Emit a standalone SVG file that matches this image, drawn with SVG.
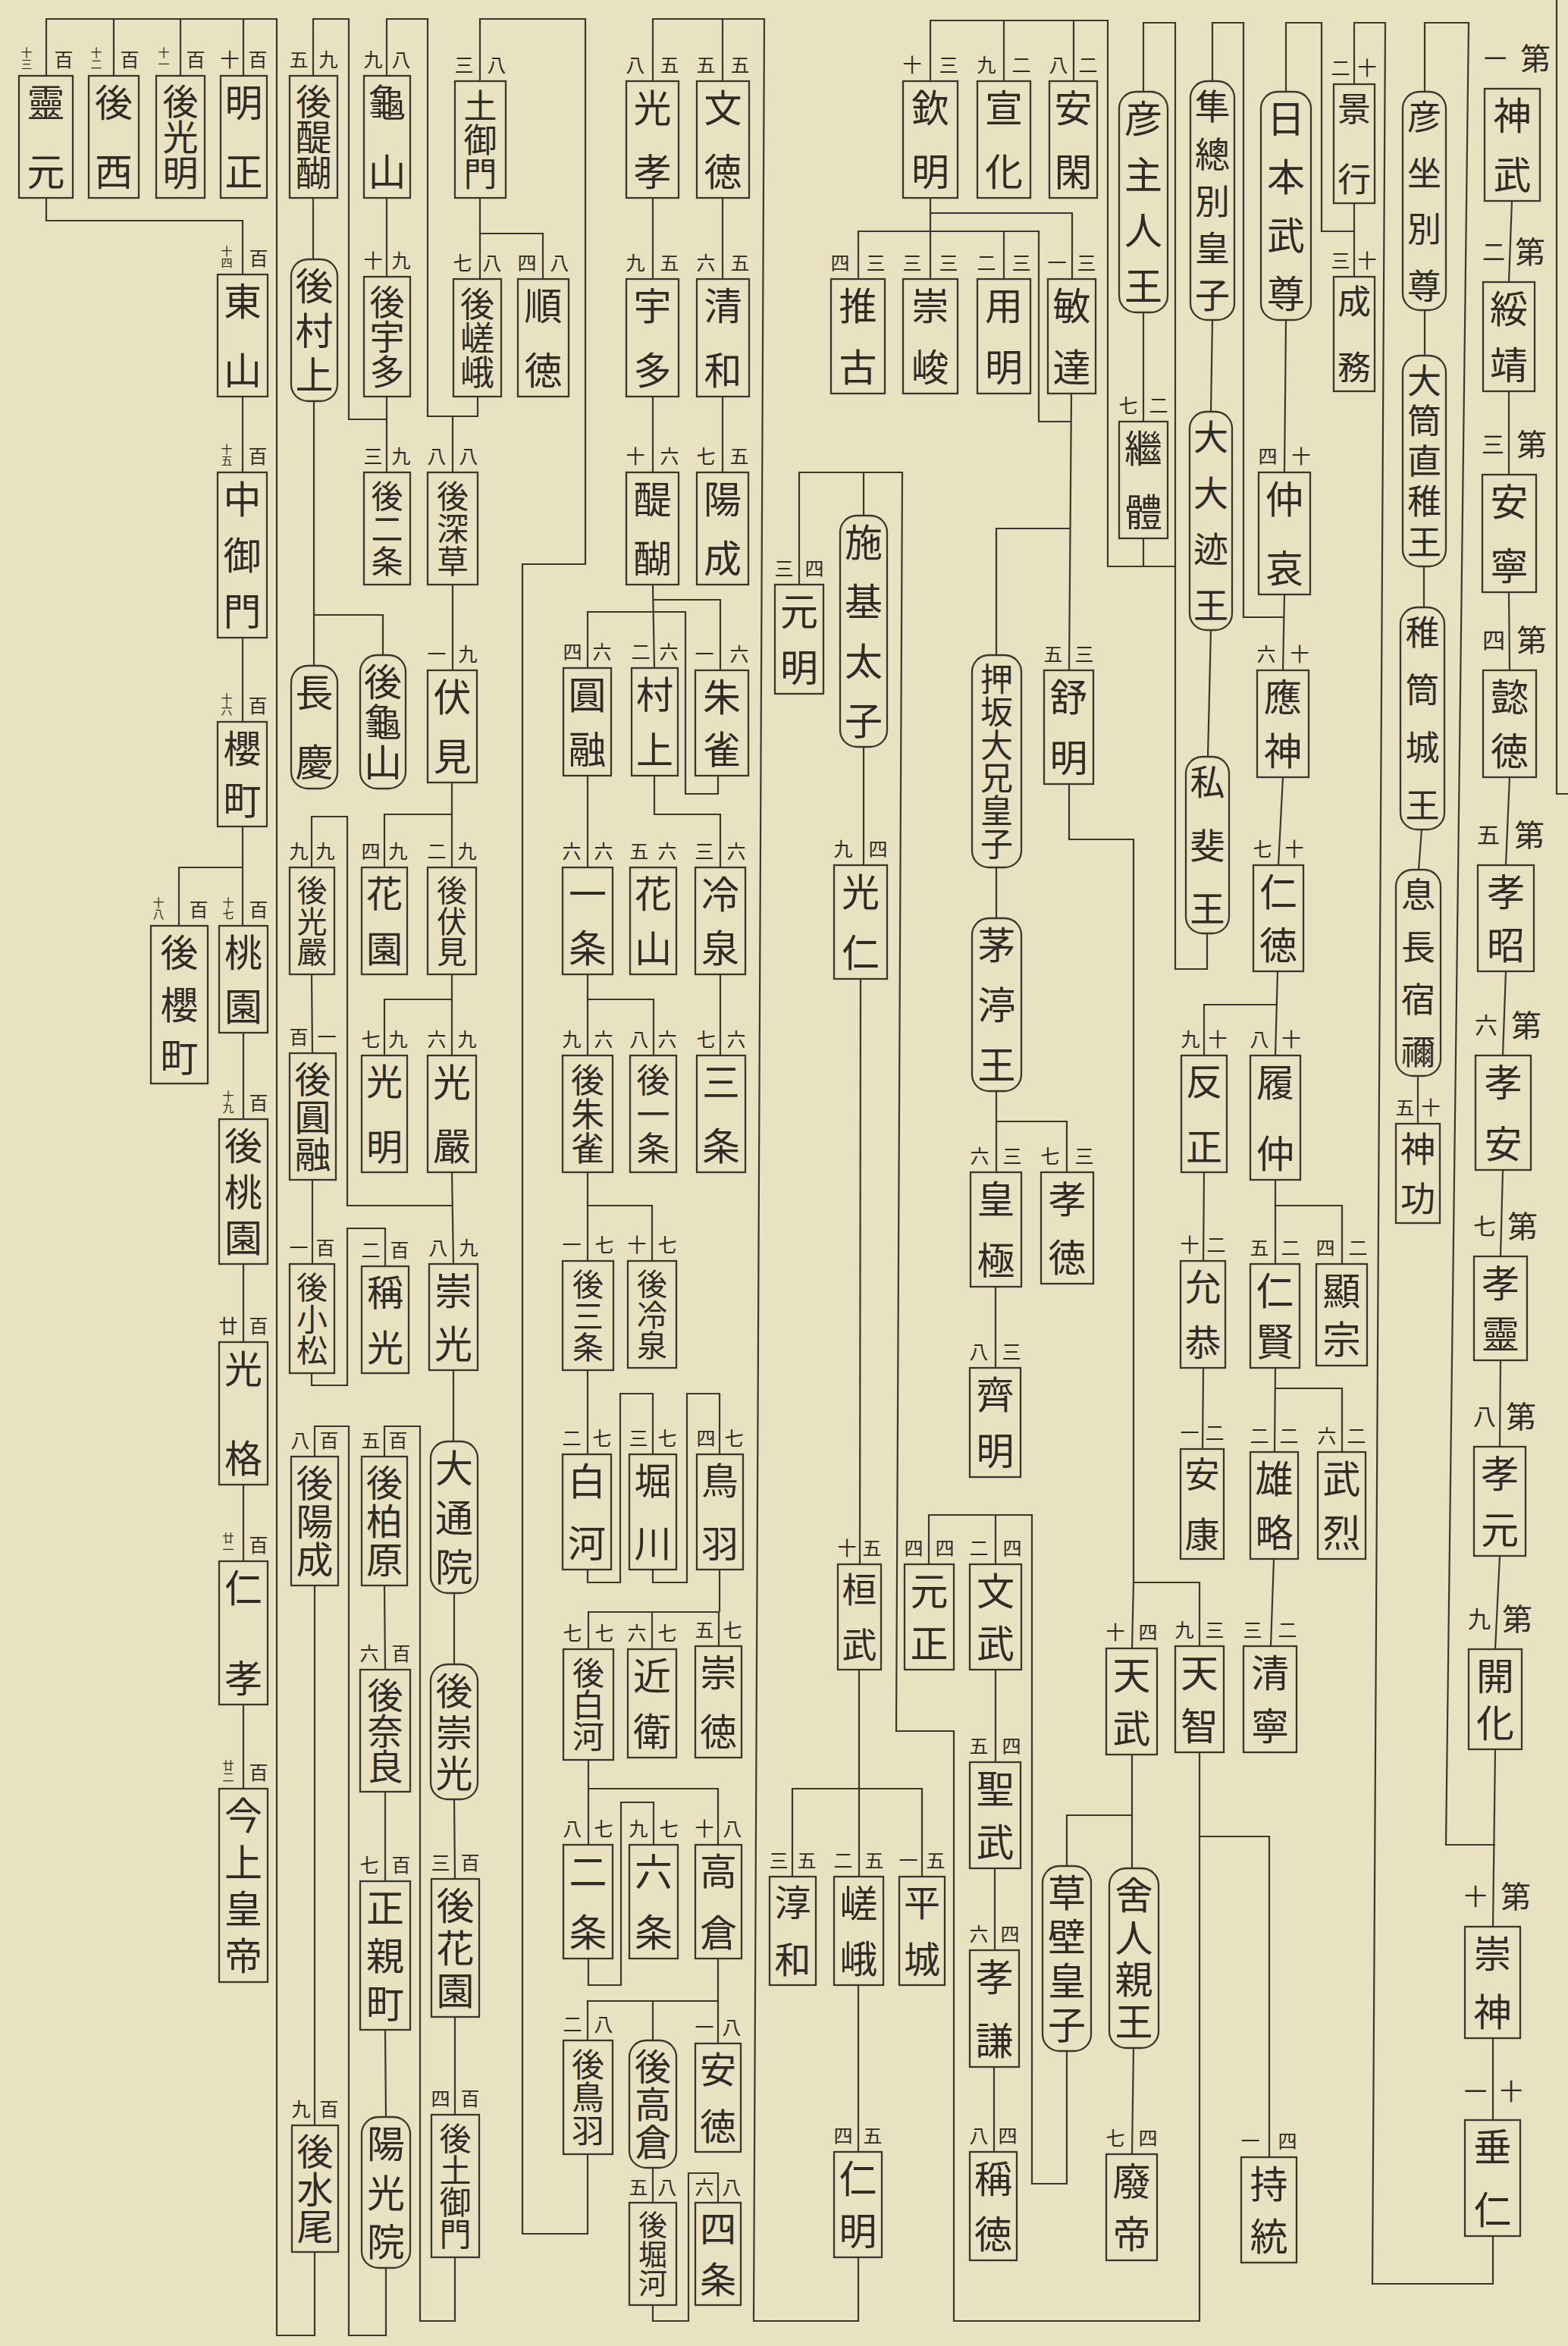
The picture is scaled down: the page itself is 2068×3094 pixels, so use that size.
<svg xmlns="http://www.w3.org/2000/svg" width="2068" height="3094" viewBox="0 0 2068 3094">
<style>
.bg{fill:#E8E2C0}
.b{fill:none;stroke:#3b3730;stroke-width:2.3}
.c path,.f{fill:none;stroke:#3b3730;stroke-width:2.2}
text{font-family:"Noto Sans CJK JP","Noto Sans CJK SC",sans-serif;fill:#2f2c27}
.t{font-size:50px;writing-mode:vertical-rl;text-anchor:middle}
.s{font-size:25px;text-anchor:middle;dominant-baseline:central}
.s2{font-size:15px;writing-mode:vertical-rl;text-anchor:middle}
.r{font-size:30px}
.d{font-size:40px}
</style>
<rect class="bg" x="0" y="0" width="2068" height="3094"/>
<path class="f" d="M2053,0 V1047 H2068"/>
<g id="connectors" class="c">
<path d="M1994,265 L1990,372"/><path d="M1990,516 L1990,626"/><path d="M1990,781 L1991,884"/><path d="M1991,1025 L1986,1141"/><path d="M1986,1281 L1982,1392"/><path d="M1982,1543 L1979,1657"/><path d="M1979,1794 L1978,1908"/><path d="M1978,2052 L1972,2175"/><path d="M1972,2307 L1969,2541"/><path d="M1969,2688 L1969,2796"/>
<path d="M1969,2949 V3012 H1810 L1827,30 H1786 V111"/>
<path d="M1786,268 V365"/>
<path d="M1786,305 H1743 V30 H1696 V121"/>
<path d="M1972,2433 H1907 L1937,30 H1879 V121"/>
<path d="M1879,409 V469"/><path d="M1878,747 V801"/><path d="M1875,1094 L1871,1147"/><path d="M1870,1419 V1482"/>
<path d="M1696,422 L1694,623"/><path d="M1694,784 L1692,884"/>
<path d="M1693,814 H1640 V30 H1599 V107"/>
<path d="M1599,422 L1597,543"/><path d="M1597,831 L1593,998"/>
<path d="M1592,1231 V1278 H1550 V30 H1508 V121"/>
<path d="M1508,412 V556"/>
<path d="M1508,710 V747 H1461 V27 H1227 V107"/>
<path d="M1461,747 H1550"/>
<path d="M1324,27 V107"/><path d="M1416,27 V107"/>
<path d="M1692,1025 L1686,1141"/><path d="M1685,1281 L1682,1392"/>
<path d="M1685,1325 H1588 V1392"/>
<path d="M1588,1546 L1587,1663"/><path d="M1587,1804 L1586,1911"/>
<path d="M1682,1556 V1667"/><path d="M1682,1590 H1770 V1667"/>
<path d="M1682,1804 L1681,1915"/><path d="M1682,1831 H1770 V1915"/>
<path d="M1680,2056 L1676,2171"/>
<path d="M1227,261 V281 H1414 V368"/><path d="M1227,281 V368"/>
<path d="M1132,368 V305 H1370 V556 H1413"/><path d="M1324,305 V368"/>
<path d="M1413,519 L1410,884"/>
<path d="M1412,697 H1314 V864"/>
<path d="M1314,1144 V1211"/><path d="M1314,1439 V1546"/>
<path d="M1314,1479 H1407 V1546"/>
<path d="M1313,1697 V1804"/>
<path d="M1410,1034 V1107 H1495 V2087 H1582 V2171"/>
<path d="M1495,2087 L1493,2174"/>
<path d="M1582,2311 V3061 H1258 V2283 H1182 L1190,623 H1054 V771"/>
<path d="M1139,623 V680"/>
<path d="M1582,2422 H1674 V2845"/>
<path d="M1493,2314 V2464"/><path d="M1493,2394 H1407 V2461"/>
<path d="M1495,2701 L1493,2841"/>
<path d="M1407,2705 V2880 H1361 V1998 H1225 V2063"/>
<path d="M1313,1998 V2063"/>
<path d="M1313,2202 V2324"/><path d="M1312,2464 V2572"/><path d="M1311,2726 V2838"/>
<path d="M1139,985 V1141"/><path d="M1135,1291 L1134,2063"/>
<path d="M1133,2202 V2475"/>
<path d="M1045,2475 V2359 H1216 V2475"/>
<path d="M1132,2618 V2838"/>
<path d="M1132,2977 V3061 H994 L1008,25 H861 V107"/>
<path d="M953,25 V107"/>
<path d="M953,261 V368"/><path d="M953,523 V623"/>
<path d="M861,261 V368"/><path d="M861,523 V623"/>
<path d="M861,771 L863,881"/>
<path d="M861,791 H950 V884"/>
<path d="M775,881 V807 H904 V1047 H947 V1023"/>
<path d="M863,1023 V1074 H950 V1144"/>
<path d="M775,1023 V1144"/>
<path d="M950,1285 V1392"/>
<path d="M775,1285 V1392"/><path d="M775,1318 H862 V1392"/>
<path d="M775,1546 V1663"/><path d="M775,1590 H860 V1663"/>
<path d="M775,1807 V1918"/>
<path d="M775,2070 V2087 H818 V1838 H861 V1918"/>
<path d="M861,2070 V2087 H906 V1838 H949 V1918"/>
<path d="M949,2070 V2126"/>
<path d="M776,2175 V2126 H948 V2171"/>
<path d="M860,2126 V2175"/>
<path d="M776,2321 V2433"/><path d="M776,2359 H947 V2433"/>
<path d="M776,2583 V2618 H819 V2377 H862 V2433"/>
<path d="M947,2583 V2695"/>
<path d="M775,2691 V2639 H947"/>
<path d="M861,2639 V2691"/>
<path d="M775,2841 V2946 H689 V744 H772 V25 H633 V107"/>
<path d="M861,2859 V2905"/>
<path d="M861,3040 V3061 H908 V2866 H947 V2905"/>
<path d="M633,261 V368"/><path d="M633,308 H716 V368"/>
<path d="M630,523 V549 H564 V25 H510 V100"/>
<path d="M597,549 V623"/>
<path d="M510,261 V365"/><path d="M510,523 V623"/>
<path d="M510,553 H460 V25 H413 V100"/>
<path d="M413,261 V342"/>
<path d="M414,529 V878"/><path d="M414,811 H505 V864"/>
<path d="M597,771 V884"/>
<path d="M596,1032 V1144"/><path d="M596,1074 H507 V1144"/>
<path d="M596,1285 V1392"/><path d="M596,1318 H507 V1392"/>
<path d="M596,1546 L598,1667"/>
<path d="M596,1590 H458 V1077 H411 V1144"/>
<path d="M411,1285 L412,1389"/><path d="M412,1556 V1667"/>
<path d="M411,1811 V1827 H458 V1620 H508 V1670"/>
<path d="M598,1807 V1901"/><path d="M599,2101 V2195"/><path d="M599,2373 L600,2478"/><path d="M600,2660 V2789"/>
<path d="M600,2977 V3061 H554 V1881 H507 V1921"/>
<path d="M507,2091 L508,2202"/><path d="M508,2363 V2481"/><path d="M508,2677 L509,2792"/>
<path d="M509,2991 V3080 H460 V1881 H415 V1921"/>
<path d="M415,2091 V2803"/>
<path d="M415,2970 V3080 H365 V25 H61 V100"/>
<path d="M150,25 V100"/><path d="M238,25 V100"/><path d="M321,25 V100"/>
<path d="M61,261 V291 H320 V362"/>
<path d="M320,523 V623"/><path d="M320,841 V952"/><path d="M320,1090 V1221"/>
<path d="M320,1144 H236 V1221"/>
<path d="M321,1362 V1476"/><path d="M321,1667 V1770"/><path d="M321,1958 V2059"/><path d="M321,2248 V2359"/>
</g>
<g id="n1"><rect class="b" x="1958" y="117" width="73" height="148"/><text class="t" x="1994.5" y="191" textLength="128">神武</text><text class="s r" x="1972" y="75">一</text><text class="s d" x="2025" y="75">第</text></g>
<g id="n2"><rect class="b" x="1956" y="372" width="68" height="144"/><text class="t" x="1990" y="444" textLength="124">綏靖</text><text class="s r" x="1970" y="330">二</text><text class="s d" x="2018" y="330">第</text></g>
<g id="n3"><rect class="b" x="1955" y="626" width="71" height="155"/><text class="t" x="1990.5" y="703.5" textLength="135">安寧</text><text class="s r" x="1969" y="584">三</text><text class="s d" x="2020" y="584">第</text></g>
<g id="n4"><rect class="b" x="1956" y="884" width="70" height="141"/><text class="t" x="1991" y="954.5" textLength="121">懿徳</text><text class="s r" x="1970" y="842">四</text><text class="s d" x="2020" y="842">第</text></g>
<g id="n5"><rect class="b" x="1949" y="1141" width="74" height="140"/><text class="t" x="1986" y="1211" textLength="120">孝昭</text><text class="s r" x="1963" y="1099">五</text><text class="s d" x="2017" y="1099">第</text></g>
<g id="n6"><rect class="b" x="1946" y="1392" width="73" height="151"/><text class="t" x="1982.5" y="1467.5" textLength="131">孝安</text><text class="s r" x="1960" y="1350">六</text><text class="s d" x="2013" y="1350">第</text></g>
<g id="n7"><rect class="b" x="1944" y="1657" width="70" height="137"/><text class="t" x="1979" y="1725.5" textLength="117">孝靈</text><text class="s r" x="1958" y="1615">七</text><text class="s d" x="2008" y="1615">第</text></g>
<g id="n8"><rect class="b" x="1944" y="1908" width="68" height="144"/><text class="t" x="1978" y="1980" textLength="124">孝元</text><text class="s r" x="1958" y="1866">八</text><text class="s d" x="2006" y="1866">第</text></g>
<g id="n9"><rect class="b" x="1937" y="2175" width="70" height="132"/><text class="t" x="1972" y="2241" textLength="112">開化</text><text class="s r" x="1951" y="2133">九</text><text class="s d" x="2001" y="2133">第</text></g>
<g id="n10"><rect class="b" x="1932" y="2541" width="73" height="147"/><text class="t" x="1968.5" y="2614.5" textLength="127">崇神</text><text class="s r" x="1946" y="2499">十</text><text class="s d" x="1999" y="2499">第</text></g>
<g id="n11"><rect class="b" x="1932" y="2796" width="73" height="153"/><text class="t" x="1968.5" y="2872.5" textLength="133">垂仁</text><text class="s r" x="1946" y="2756">一</text><text class="s r" x="1993" y="2756">十</text></g>
<g id="n12"><rect class="b" x="1850" y="121" width="57" height="288" rx="22"/><text class="t" x="1878.5" y="265" textLength="268" style="font-size:45px">彦坐別尊</text></g>
<g id="n13"><rect class="b" x="1850" y="469" width="57" height="278" rx="22"/><text class="t" x="1878.5" y="608" textLength="258" style="font-size:45px">大筒直稚王</text></g>
<g id="n14"><rect class="b" x="1847" y="801" width="58" height="293" rx="22"/><text class="t" x="1876" y="947.5" textLength="273" style="font-size:45px">稚筒城王</text></g>
<g id="n15"><rect class="b" x="1841" y="1147" width="59" height="272" rx="22"/><text class="t" x="1870.5" y="1283" textLength="252" style="font-size:45px">息長宿禰</text></g>
<g id="n16"><rect class="b" x="1841" y="1482" width="58" height="131"/><text class="t" x="1870" y="1547.5" textLength="111" style="font-size:46px">神功</text><text class="s" x="1853" y="1459">五</text><text class="s" x="1887" y="1459">十</text></g>
<g id="n17"><rect class="b" x="1759" y="111" width="54" height="157"/><text class="t" x="1786" y="189.5" textLength="137" style="font-size:44px">景行</text><text class="s" x="1768" y="88">二</text><text class="s" x="1803" y="88">十</text></g>
<g id="n18"><rect class="b" x="1759" y="365" width="54" height="151"/><text class="t" x="1786" y="440.5" textLength="131" style="font-size:44px">成務</text><text class="s" x="1768" y="342">三</text><text class="s" x="1803" y="342">十</text></g>
<g id="n19"><rect class="b" x="1663" y="121" width="66" height="301" rx="22"/><text class="t" x="1696" y="271.5" textLength="281">日本武尊</text></g>
<g id="n20"><rect class="b" x="1660" y="623" width="68" height="161"/><text class="t" x="1694" y="703.5" textLength="141">仲哀</text><text class="s" x="1672" y="600">四</text><text class="s" x="1716" y="600">十</text></g>
<g id="n21"><rect class="b" x="1658" y="884" width="68" height="141"/><text class="t" x="1692" y="954.5" textLength="121">應神</text><text class="s" x="1670" y="861">六</text><text class="s" x="1714" y="861">十</text></g>
<g id="n22"><rect class="b" x="1653" y="1141" width="66" height="140"/><text class="t" x="1686" y="1211" textLength="120">仁徳</text><text class="s" x="1665" y="1118">七</text><text class="s" x="1707" y="1118">十</text></g>
<g id="n23"><rect class="b" x="1649" y="1392" width="66" height="164"/><text class="t" x="1682" y="1474" textLength="144">履仲</text><text class="s" x="1661" y="1369">八</text><text class="s" x="1703" y="1369">十</text></g>
<g id="n24"><rect class="b" x="1649" y="1667" width="65" height="137"/><text class="t" x="1681.5" y="1735.5" textLength="117">仁賢</text><text class="s" x="1661" y="1644">五</text><text class="s" x="1702" y="1644">二</text></g>
<g id="n25"><rect class="b" x="1649" y="1915" width="63" height="141"/><text class="t" x="1680.5" y="1985.5" textLength="121">雄略</text><text class="s" x="1661" y="1892">二</text><text class="s" x="1700" y="1892">二</text></g>
<g id="n26"><rect class="b" x="1640" y="2171" width="70" height="140"/><text class="t" x="1675" y="2241" textLength="120">清寧</text><text class="s" x="1652" y="2148">三</text><text class="s" x="1698" y="2148">二</text></g>
<g id="n27"><rect class="b" x="1637" y="2845" width="73" height="139"/><text class="t" x="1673.5" y="2914.5" textLength="119">持統</text><text class="s" x="1649" y="2822">一</text><text class="s" x="1698" y="2822">四</text></g>
<g id="n28"><rect class="b" x="1736" y="1667" width="67" height="134"/><text class="t" x="1769.5" y="1734" textLength="114">顯宗</text><text class="s" x="1748" y="1644">四</text><text class="s" x="1791" y="1644">二</text></g>
<g id="n29"><rect class="b" x="1738" y="1915" width="63" height="141"/><text class="t" x="1769.5" y="1985.5" textLength="121">武烈</text><text class="s" x="1750" y="1892">六</text><text class="s" x="1789" y="1892">二</text></g>
<g id="n30"><rect class="b" x="1570" y="107" width="58" height="315" rx="22"/><text class="t" x="1599" y="264.5" textLength="295" style="font-size:46px">隼總別皇子</text></g>
<g id="n31"><rect class="b" x="1569" y="543" width="56" height="288" rx="22"/><text class="t" x="1597" y="687" textLength="268" style="font-size:46px">大大迹王</text></g>
<g id="n32"><rect class="b" x="1564" y="998" width="57" height="233" rx="22"/><text class="t" x="1592.5" y="1114.5" textLength="213" style="font-size:46px">私斐王</text></g>
<g id="n33"><rect class="b" x="1558" y="1392" width="60" height="154"/><text class="t" x="1588" y="1469" textLength="134" style="font-size:48px">反正</text><text class="s" x="1570" y="1369">九</text><text class="s" x="1606" y="1369">十</text></g>
<g id="n34"><rect class="b" x="1557" y="1663" width="59" height="141"/><text class="t" x="1586.5" y="1733.5" textLength="121" style="font-size:48px">允恭</text><text class="s" x="1569" y="1640">十</text><text class="s" x="1604" y="1640">二</text></g>
<g id="n35"><rect class="b" x="1557" y="1911" width="57" height="145"/><text class="t" x="1585.5" y="1983.5" textLength="125" style="font-size:46px">安康</text><text class="s" x="1569" y="1888">一</text><text class="s" x="1602" y="1888">二</text></g>
<g id="n36"><rect class="b" x="1550" y="2171" width="64" height="140"/><text class="t" x="1582" y="2241" textLength="120">天智</text><text class="s" x="1562" y="2148">九</text><text class="s" x="1602" y="2148">三</text></g>
<g id="n37"><rect class="b" x="1476" y="121" width="64" height="291" rx="22"/><text class="t" x="1508" y="266.5" textLength="271">彦主人王</text></g>
<g id="n38"><rect class="b" x="1476" y="556" width="64" height="154"/><text class="t" x="1508" y="633" textLength="134">繼體</text><text class="s" x="1488" y="533">七</text><text class="s" x="1528" y="533">二</text></g>
<g id="n39"><rect class="b" x="1459" y="2174" width="67" height="140"/><text class="t" x="1492.5" y="2244" textLength="120">天武</text><text class="s" x="1471" y="2151">十</text><text class="s" x="1514" y="2151">四</text></g>
<g id="n40"><rect class="b" x="1463" y="2464" width="65" height="237" rx="22"/><text class="t" x="1495.5" y="2582.5" textLength="217">舍人親王</text></g>
<g id="n41"><rect class="b" x="1459" y="2841" width="67" height="140"/><text class="t" x="1492.5" y="2911" textLength="120">廢帝</text><text class="s" x="1471" y="2818">七</text><text class="s" x="1514" y="2818">四</text></g>
<g id="n42"><rect class="b" x="1384" y="107" width="63" height="154"/><text class="t" x="1415.5" y="184" textLength="134">安閑</text><text class="s" x="1396" y="84">八</text><text class="s" x="1435" y="84">二</text></g>
<g id="n43"><rect class="b" x="1382" y="368" width="63" height="151"/><text class="t" x="1413.5" y="443.5" textLength="131">敏達</text><text class="s" x="1394" y="345">一</text><text class="s" x="1433" y="345">三</text></g>
<g id="n44"><rect class="b" x="1377" y="884" width="65" height="150"/><text class="t" x="1409.5" y="959" textLength="130">舒明</text><text class="s" x="1389" y="861">五</text><text class="s" x="1430" y="861">三</text></g>
<g id="n45"><rect class="b" x="1373" y="1546" width="69" height="147"/><text class="t" x="1407.5" y="1619.5" textLength="127">孝徳</text><text class="s" x="1385" y="1523">七</text><text class="s" x="1430" y="1523">三</text></g>
<g id="n46"><rect class="b" x="1375" y="2461" width="64" height="244" rx="22"/><text class="t" x="1407" y="2583" textLength="224">草壁皇子</text></g>
<g id="n47"><rect class="b" x="1289" y="107" width="70" height="154"/><text class="t" x="1324" y="184" textLength="134">宣化</text><text class="s" x="1301" y="84">九</text><text class="s" x="1347" y="84">二</text></g>
<g id="n48"><rect class="b" x="1289" y="368" width="70" height="151"/><text class="t" x="1324" y="443.5" textLength="131">用明</text><text class="s" x="1301" y="345">二</text><text class="s" x="1347" y="345">三</text></g>
<g id="n49"><rect class="b" x="1282" y="864" width="65" height="280" rx="22"/><text class="t" x="1314.5" y="1004" textLength="260" style="font-size:43px">押坂大兄皇子</text></g>
<g id="n50"><rect class="b" x="1282" y="1211" width="65" height="228" rx="22"/><text class="t" x="1314.5" y="1325" textLength="208">茅渟王</text></g>
<g id="n51"><rect class="b" x="1280" y="1546" width="67" height="151"/><text class="t" x="1313.5" y="1621.5" textLength="131">皇極</text><text class="s" x="1292" y="1523">六</text><text class="s" x="1335" y="1523">三</text></g>
<g id="n52"><rect class="b" x="1279" y="1804" width="67" height="144"/><text class="t" x="1312.5" y="1876" textLength="124">齊明</text><text class="s" x="1291" y="1781">八</text><text class="s" x="1334" y="1781">三</text></g>
<g id="n53"><rect class="b" x="1279" y="2063" width="68" height="139"/><text class="t" x="1313" y="2132.5" textLength="119">文武</text><text class="s" x="1291" y="2040">二</text><text class="s" x="1335" y="2040">四</text></g>
<g id="n54"><rect class="b" x="1279" y="2324" width="67" height="140"/><text class="t" x="1312.5" y="2394" textLength="120">聖武</text><text class="s" x="1291" y="2301">五</text><text class="s" x="1334" y="2301">四</text></g>
<g id="n55"><rect class="b" x="1279" y="2572" width="65" height="154"/><text class="t" x="1311.5" y="2649" textLength="134">孝謙</text><text class="s" x="1291" y="2549">六</text><text class="s" x="1332" y="2549">四</text></g>
<g id="n56"><rect class="b" x="1279" y="2838" width="62" height="143"/><text class="t" x="1310" y="2909.5" textLength="123">稱徳</text><text class="s" x="1291" y="2815">八</text><text class="s" x="1329" y="2815">四</text></g>
<g id="n57"><rect class="b" x="1191" y="107" width="72" height="154"/><text class="t" x="1227" y="184" textLength="134">欽明</text><text class="s" x="1203" y="84">十</text><text class="s" x="1251" y="84">三</text></g>
<g id="n58"><rect class="b" x="1191" y="368" width="72" height="151"/><text class="t" x="1227" y="443.5" textLength="131">崇峻</text><text class="s" x="1203" y="345">三</text><text class="s" x="1251" y="345">三</text></g>
<g id="n59"><rect class="b" x="1193" y="2063" width="65" height="139"/><text class="t" x="1225.5" y="2132.5" textLength="119">元正</text><text class="s" x="1205" y="2040">四</text><text class="s" x="1246" y="2040">四</text></g>
<g id="n60"><rect class="b" x="1186" y="2475" width="60" height="143"/><text class="t" x="1216" y="2546.5" textLength="123" style="font-size:48px">平城</text><text class="s" x="1198" y="2452">一</text><text class="s" x="1234" y="2452">五</text></g>
<g id="n61"><rect class="b" x="1096" y="368" width="71" height="151"/><text class="t" x="1131.5" y="443.5" textLength="131">推古</text><text class="s" x="1108" y="345">四</text><text class="s" x="1155" y="345">三</text></g>
<g id="n62"><rect class="b" x="1108" y="680" width="62" height="305" rx="22"/><text class="t" x="1139" y="832.5" textLength="285">施基太子</text></g>
<g id="n63"><rect class="b" x="1100" y="1141" width="70" height="150"/><text class="t" x="1135" y="1216" textLength="130">光仁</text><text class="s" x="1112" y="1118">九</text><text class="s" x="1158" y="1118">四</text></g>
<g id="n64"><rect class="b" x="1105" y="2063" width="57" height="139"/><text class="t" x="1133.5" y="2132.5" textLength="119" style="font-size:46px">桓武</text><text class="s" x="1117" y="2040">十</text><text class="s" x="1150" y="2040">五</text></g>
<g id="n65"><rect class="b" x="1100" y="2475" width="65" height="143"/><text class="t" x="1132.5" y="2546.5" textLength="123">嵯峨</text><text class="s" x="1112" y="2452">二</text><text class="s" x="1153" y="2452">五</text></g>
<g id="n66"><rect class="b" x="1100" y="2838" width="63" height="139"/><text class="t" x="1131.5" y="2907.5" textLength="119">仁明</text><text class="s" x="1112" y="2815">四</text><text class="s" x="1151" y="2815">五</text></g>
<g id="n67"><rect class="b" x="1022" y="771" width="64" height="144"/><text class="t" x="1054" y="843" textLength="124">元明</text><text class="s" x="1034" y="748">三</text><text class="s" x="1074" y="748">四</text></g>
<g id="n68"><rect class="b" x="1015" y="2475" width="61" height="143"/><text class="t" x="1045.5" y="2546.5" textLength="123" style="font-size:48px">淳和</text><text class="s" x="1027" y="2452">三</text><text class="s" x="1064" y="2452">五</text></g>
<g id="n69"><rect class="b" x="919" y="107" width="69" height="154"/><text class="t" x="953.5" y="184" textLength="134">文徳</text><text class="s" x="931" y="84">五</text><text class="s" x="976" y="84">五</text></g>
<g id="n70"><rect class="b" x="919" y="368" width="69" height="155"/><text class="t" x="953.5" y="445.5" textLength="135">清和</text><text class="s" x="931" y="345">六</text><text class="s" x="976" y="345">五</text></g>
<g id="n71"><rect class="b" x="919" y="623" width="68" height="148"/><text class="t" x="953" y="697" textLength="128">陽成</text><text class="s" x="931" y="600">七</text><text class="s" x="975" y="600">五</text></g>
<g id="n72"><rect class="b" x="917" y="884" width="70" height="139"/><text class="t" x="952" y="953.5" textLength="119">朱雀</text><text class="s" x="929" y="861">一</text><text class="s" x="975" y="861">六</text></g>
<g id="n73"><rect class="b" x="917" y="1144" width="66" height="141"/><text class="t" x="950" y="1214.5" textLength="121">冷泉</text><text class="s" x="929" y="1121">三</text><text class="s" x="971" y="1121">六</text></g>
<g id="n74"><rect class="b" x="919" y="1392" width="64" height="154"/><text class="t" x="951" y="1469" textLength="134">三条</text><text class="s" x="931" y="1369">七</text><text class="s" x="971" y="1369">六</text></g>
<g id="n75"><rect class="b" x="919" y="1918" width="61" height="152"/><text class="t" x="949.5" y="1994" textLength="132" style="font-size:49px">鳥羽</text><text class="s" x="931" y="1895">四</text><text class="s" x="968" y="1895">七</text></g>
<g id="n76"><rect class="b" x="917" y="2171" width="61" height="147"/><text class="t" x="947.5" y="2244.5" textLength="127" style="font-size:49px">崇徳</text><text class="s" x="929" y="2148">五</text><text class="s" x="966" y="2148">七</text></g>
<g id="n77"><rect class="b" x="917" y="2433" width="61" height="150"/><text class="t" x="947.5" y="2508" textLength="130" style="font-size:49px">高倉</text><text class="s" x="929" y="2410">十</text><text class="s" x="966" y="2410">八</text></g>
<g id="n78"><rect class="b" x="917" y="2695" width="60" height="143"/><text class="t" x="947" y="2766.5" textLength="123" style="font-size:48px">安徳</text><text class="s" x="929" y="2672">一</text><text class="s" x="965" y="2672">八</text></g>
<g id="n79"><rect class="b" x="917" y="2905" width="60" height="135"/><text class="t" x="947" y="2972.5" textLength="115" style="font-size:48px">四条</text><text class="s" x="929" y="2883">六</text><text class="s" x="965" y="2883">八</text></g>
<g id="n80"><rect class="b" x="826" y="107" width="69" height="154"/><text class="t" x="860.5" y="184" textLength="134">光孝</text><text class="s" x="838" y="84">八</text><text class="s" x="883" y="84">五</text></g>
<g id="n81"><rect class="b" x="826" y="368" width="69" height="155"/><text class="t" x="860.5" y="445.5" textLength="135">宇多</text><text class="s" x="838" y="345">九</text><text class="s" x="883" y="345">五</text></g>
<g id="n82"><rect class="b" x="826" y="623" width="69" height="148"/><text class="t" x="860.5" y="697" textLength="128">醍醐</text><text class="s" x="838" y="600">十</text><text class="s" x="883" y="600">六</text></g>
<g id="n83"><rect class="b" x="833" y="881" width="61" height="142"/><text class="t" x="863.5" y="952" textLength="122" style="font-size:49px">村上</text><text class="s" x="845" y="858">二</text><text class="s" x="882" y="858">六</text></g>
<g id="n84"><rect class="b" x="831" y="1144" width="61" height="141"/><text class="t" x="861.5" y="1214.5" textLength="121" style="font-size:49px">花山</text><text class="s" x="843" y="1121">五</text><text class="s" x="880" y="1121">六</text></g>
<g id="n85"><rect class="b" x="831" y="1392" width="61" height="154"/><text class="t" x="861.5" y="1469" textLength="134" style="font-size:44px">後一条</text><text class="s" x="843" y="1369">八</text><text class="s" x="880" y="1369">六</text></g>
<g id="n86"><rect class="b" x="828" y="1663" width="64" height="141"/><text class="t" x="860" y="1733.5" textLength="121" style="font-size:40px">後冷泉</text><text class="s" x="840" y="1640">十</text><text class="s" x="880" y="1640">七</text></g>
<g id="n87"><rect class="b" x="830" y="1918" width="62" height="152"/><text class="t" x="861" y="1994" textLength="132" style="font-size:49px">堀川</text><text class="s" x="842" y="1895">三</text><text class="s" x="880" y="1895">七</text></g>
<g id="n88"><rect class="b" x="828" y="2175" width="64" height="143"/><text class="t" x="860" y="2246.5" textLength="123">近衛</text><text class="s" x="840" y="2152">六</text><text class="s" x="880" y="2152">七</text></g>
<g id="n89"><rect class="b" x="830" y="2433" width="64" height="150"/><text class="t" x="862" y="2508" textLength="130">六条</text><text class="s" x="842" y="2410">九</text><text class="s" x="882" y="2410">七</text></g>
<g id="n90"><rect class="b" x="830" y="2691" width="62" height="168" rx="22"/><text class="t" x="861" y="2775" textLength="148" style="font-size:48px">後高倉</text></g>
<g id="n91"><rect class="b" x="830" y="2905" width="62" height="135"/><text class="t" x="861" y="2972.5" textLength="115" style="font-size:38px">後堀河</text><text class="s" x="842" y="2883">五</text><text class="s" x="880" y="2883">八</text></g>
<g id="n92"><rect class="b" x="743" y="881" width="63" height="142"/><text class="t" x="774.5" y="952" textLength="122">圓融</text><text class="s" x="755" y="858">四</text><text class="s" x="794" y="858">六</text></g>
<g id="n93"><rect class="b" x="742" y="1144" width="66" height="141"/><text class="t" x="775" y="1214.5" textLength="121">一条</text><text class="s" x="754" y="1121">六</text><text class="s" x="796" y="1121">六</text></g>
<g id="n94"><rect class="b" x="742" y="1392" width="66" height="154"/><text class="t" x="775" y="1469" textLength="134" style="font-size:44px">後朱雀</text><text class="s" x="754" y="1369">九</text><text class="s" x="796" y="1369">六</text></g>
<g id="n95"><rect class="b" x="742" y="1663" width="67" height="144"/><text class="t" x="775.5" y="1735" textLength="124" style="font-size:41px">後三条</text><text class="s" x="754" y="1640">一</text><text class="s" x="797" y="1640">七</text></g>
<g id="n96"><rect class="b" x="742" y="1918" width="64" height="152"/><text class="t" x="774" y="1994" textLength="132">白河</text><text class="s" x="754" y="1895">二</text><text class="s" x="794" y="1895">七</text></g>
<g id="n97"><rect class="b" x="743" y="2175" width="66" height="146"/><text class="t" x="776" y="2248" textLength="126" style="font-size:42px">後白河</text><text class="s" x="755" y="2152">七</text><text class="s" x="797" y="2152">七</text></g>
<g id="n98"><rect class="b" x="743" y="2433" width="65" height="150"/><text class="t" x="775.5" y="2508" textLength="130">二条</text><text class="s" x="755" y="2410">八</text><text class="s" x="796" y="2410">七</text></g>
<g id="n99"><rect class="b" x="743" y="2691" width="65" height="150"/><text class="t" x="775.5" y="2766" textLength="130" style="font-size:43px">後鳥羽</text><text class="s" x="755" y="2668">二</text><text class="s" x="796" y="2668">八</text></g>
<g id="n100"><rect class="b" x="600" y="107" width="67" height="154"/><text class="t" x="633.5" y="184" textLength="134" style="font-size:44px">土御門</text><text class="s" x="612" y="84">三</text><text class="s" x="655" y="84">八</text></g>
<g id="n101"><rect class="b" x="683" y="368" width="67" height="155"/><text class="t" x="716.5" y="445.5" textLength="135">順徳</text><text class="s" x="695" y="345">四</text><text class="s" x="738" y="345">八</text></g>
<g id="n102"><rect class="b" x="598" y="368" width="63" height="155"/><text class="t" x="629.5" y="445.5" textLength="135" style="font-size:45px">後嵯峨</text><text class="s" x="610" y="345">七</text><text class="s" x="649" y="345">八</text></g>
<g id="n103"><rect class="b" x="564" y="623" width="66" height="148"/><text class="t" x="597" y="697" textLength="128" style="font-size:42px">後深草</text><text class="s" x="576" y="600">八</text><text class="s" x="618" y="600">八</text></g>
<g id="n104"><rect class="b" x="564" y="884" width="65" height="148"/><text class="t" x="596.5" y="958" textLength="128">伏見</text><text class="s" x="576" y="861">一</text><text class="s" x="617" y="861">九</text></g>
<g id="n105"><rect class="b" x="564" y="1144" width="64" height="141"/><text class="t" x="596" y="1214.5" textLength="121" style="font-size:40px">後伏見</text><text class="s" x="576" y="1121">二</text><text class="s" x="616" y="1121">九</text></g>
<g id="n106"><rect class="b" x="564" y="1392" width="64" height="154"/><text class="t" x="596" y="1469" textLength="134">光嚴</text><text class="s" x="576" y="1369">六</text><text class="s" x="616" y="1369">九</text></g>
<g id="n107"><rect class="b" x="566" y="1667" width="64" height="140"/><text class="t" x="598" y="1737" textLength="120">崇光</text><text class="s" x="578" y="1644">八</text><text class="s" x="618" y="1644">九</text></g>
<g id="n108"><rect class="b" x="568" y="1901" width="62" height="200" rx="22"/><text class="t" x="599" y="2001" textLength="180">大通院</text></g>
<g id="n109"><rect class="b" x="568" y="2195" width="62" height="178" rx="22"/><text class="t" x="599" y="2284" textLength="158" style="font-size:49px">後崇光</text></g>
<g id="n110"><rect class="b" x="569" y="2478" width="63" height="182"/><text class="t" x="600.5" y="2569" textLength="162">後花園</text><text class="s" x="581" y="2455">三</text><text class="s" x="620" y="2455">百</text></g>
<g id="n111"><rect class="b" x="569" y="2789" width="63" height="188"/><text class="t" x="600.5" y="2883" textLength="168" style="font-size:42px">後土御門</text><text class="s" x="581" y="2766">四</text><text class="s" x="620" y="2766">百</text></g>
<g id="n112"><rect class="b" x="480" y="100" width="61" height="161"/><text class="t" x="510.5" y="180.5" textLength="141">龜山</text><text class="s" x="492" y="77">九</text><text class="s" x="529" y="77">八</text></g>
<g id="n113"><rect class="b" x="480" y="365" width="61" height="158"/><text class="t" x="510.5" y="444" textLength="138" style="font-size:46px">後宇多</text><text class="s" x="492" y="342">十</text><text class="s" x="529" y="342">九</text></g>
<g id="n114"><rect class="b" x="480" y="623" width="61" height="148"/><text class="t" x="510.5" y="697" textLength="128" style="font-size:42px">後二条</text><text class="s" x="492" y="600">三</text><text class="s" x="529" y="600">九</text></g>
<g id="n115"><rect class="b" x="475" y="864" width="60" height="176" rx="22"/><text class="t" x="505" y="952" textLength="156">後龜山</text></g>
<g id="n116"><rect class="b" x="477" y="1144" width="60" height="141"/><text class="t" x="507" y="1214.5" textLength="121" style="font-size:48px">花園</text><text class="s" x="489" y="1121">四</text><text class="s" x="525" y="1121">九</text></g>
<g id="n117"><rect class="b" x="477" y="1392" width="60" height="154"/><text class="t" x="507" y="1469" textLength="134" style="font-size:48px">光明</text><text class="s" x="489" y="1369">七</text><text class="s" x="525" y="1369">九</text></g>
<g id="n118"><rect class="b" x="477" y="1670" width="62" height="141"/><text class="t" x="508" y="1740.5" textLength="121" style="font-size:48px">稱光</text><text class="s" x="489" y="1647">二</text><text class="s" x="527" y="1647">百</text></g>
<g id="n119"><rect class="b" x="477" y="1921" width="60" height="170"/><text class="t" x="507" y="2006" textLength="150" style="font-size:48px">後柏原</text><text class="s" x="489" y="1898">五</text><text class="s" x="525" y="1898">百</text></g>
<g id="n120"><rect class="b" x="475" y="2202" width="66" height="161"/><text class="t" x="508" y="2282.5" textLength="141" style="font-size:47px">後奈良</text><text class="s" x="487" y="2179">六</text><text class="s" x="529" y="2179">百</text></g>
<g id="n121"><rect class="b" x="475" y="2481" width="66" height="196"/><text class="t" x="508" y="2579" textLength="176">正親町</text><text class="s" x="487" y="2458">七</text><text class="s" x="529" y="2458">百</text></g>
<g id="n122"><rect class="b" x="477" y="2792" width="64" height="199" rx="22"/><text class="t" x="509" y="2891.5" textLength="179">陽光院</text></g>
<g id="n123"><rect class="b" x="382" y="100" width="63" height="161"/><text class="t" x="413.5" y="180.5" textLength="141" style="font-size:47px">後醍醐</text><text class="s" x="394" y="77">五</text><text class="s" x="433" y="77">九</text></g>
<g id="n124"><rect class="b" x="384" y="342" width="61" height="187" rx="22"/><text class="t" x="414.5" y="435.5" textLength="167">後村上</text></g>
<g id="n125"><rect class="b" x="384" y="878" width="61" height="162" rx="22"/><text class="t" x="414.5" y="959" textLength="142">長慶</text></g>
<g id="n126"><rect class="b" x="382" y="1144" width="59" height="141"/><text class="t" x="411.5" y="1214.5" textLength="121" style="font-size:40px">後光嚴</text><text class="s" x="394" y="1121">九</text><text class="s" x="429" y="1121">九</text></g>
<g id="n127"><rect class="b" x="382" y="1389" width="61" height="167"/><text class="t" x="412.5" y="1472.5" textLength="147" style="font-size:48px">後圓融</text><text class="s" x="394" y="1366">百</text><text class="s" x="431" y="1366">一</text></g>
<g id="n128"><rect class="b" x="382" y="1667" width="59" height="144"/><text class="t" x="411.5" y="1739" textLength="124" style="font-size:41px">後小松</text><text class="s" x="394" y="1644">一</text><text class="s" x="429" y="1644">百</text></g>
<g id="n129"><rect class="b" x="384" y="1921" width="62" height="170"/><text class="t" x="415" y="2006" textLength="150" style="font-size:49px">後陽成</text><text class="s" x="396" y="1898">八</text><text class="s" x="434" y="1898">百</text></g>
<g id="n130"><rect class="b" x="385" y="2803" width="61" height="167"/><text class="t" x="415.5" y="2886.5" textLength="147" style="font-size:48px">後水尾</text><text class="s" x="397" y="2780">九</text><text class="s" x="434" y="2780">百</text></g>
<g id="n131"><rect class="b" x="291" y="100" width="61" height="161"/><text class="t" x="321.5" y="180.5" textLength="141">明正</text><text class="s" x="303" y="77">十</text><text class="s" x="340" y="77">百</text></g>
<g id="n132"><rect class="b" x="287" y="362" width="66" height="161"/><text class="t" x="320" y="442.5" textLength="141">東山</text><text class="s2" x="299" y="339">十四</text><text class="s" x="341" y="339">百</text></g>
<g id="n133"><rect class="b" x="287" y="623" width="65" height="218"/><text class="t" x="319.5" y="732" textLength="198">中御門</text><text class="s2" x="299" y="600">十五</text><text class="s" x="340" y="600">百</text></g>
<g id="n134"><rect class="b" x="287" y="952" width="65" height="138"/><text class="t" x="319.5" y="1021" textLength="118">櫻町</text><text class="s2" x="299" y="929">十六</text><text class="s" x="340" y="929">百</text></g>
<g id="n135"><rect class="b" x="289" y="1221" width="64" height="141"/><text class="t" x="321" y="1291.5" textLength="121">桃園</text><text class="s2" x="301" y="1198">十七</text><text class="s" x="341" y="1198">百</text></g>
<g id="n136"><rect class="b" x="289" y="1476" width="64" height="191"/><text class="t" x="321" y="1571.5" textLength="171">後桃園</text><text class="s2" x="301" y="1453">十九</text><text class="s" x="341" y="1453">百</text></g>
<g id="n137"><rect class="b" x="289" y="1770" width="64" height="188"/><text class="t" x="321" y="1864" textLength="168">光格</text><text class="s" x="301" y="1747">廿</text><text class="s" x="341" y="1747">百</text></g>
<g id="n138"><rect class="b" x="289" y="2059" width="64" height="189"/><text class="t" x="321" y="2153.5" textLength="169">仁孝</text><text class="s2" x="301" y="2036">廿一</text><text class="s" x="341" y="2036">百</text></g>
<g id="n139"><rect class="b" x="289" y="2359" width="64" height="255"/><text class="t" x="321" y="2486.5" textLength="235">今上皇帝</text><text class="s2" x="301" y="2336">廿二</text><text class="s" x="341" y="2336">百</text></g>
<g id="n140"><rect class="b" x="199" y="1221" width="75" height="208"/><text class="t" x="236.5" y="1325" textLength="188">後櫻町</text><text class="s2" x="209" y="1198">十八</text><text class="s" x="262" y="1198">百</text></g>
<g id="n141"><rect class="b" x="206" y="100" width="64" height="161"/><text class="t" x="238" y="180.5" textLength="141" style="font-size:47px">後光明</text><text class="s2" x="216" y="77">十一</text><text class="s" x="258" y="77">百</text></g>
<g id="n142"><rect class="b" x="117" y="100" width="66" height="161"/><text class="t" x="150" y="180.5" textLength="141">後西</text><text class="s2" x="127" y="77">十二</text><text class="s" x="171" y="77">百</text></g>
<g id="n143"><rect class="b" x="25" y="100" width="71" height="161"/><text class="t" x="60.5" y="180.5" textLength="141">靈元</text><text class="s2" x="35" y="77">十三</text><text class="s" x="84" y="77">百</text></g>
</svg>
